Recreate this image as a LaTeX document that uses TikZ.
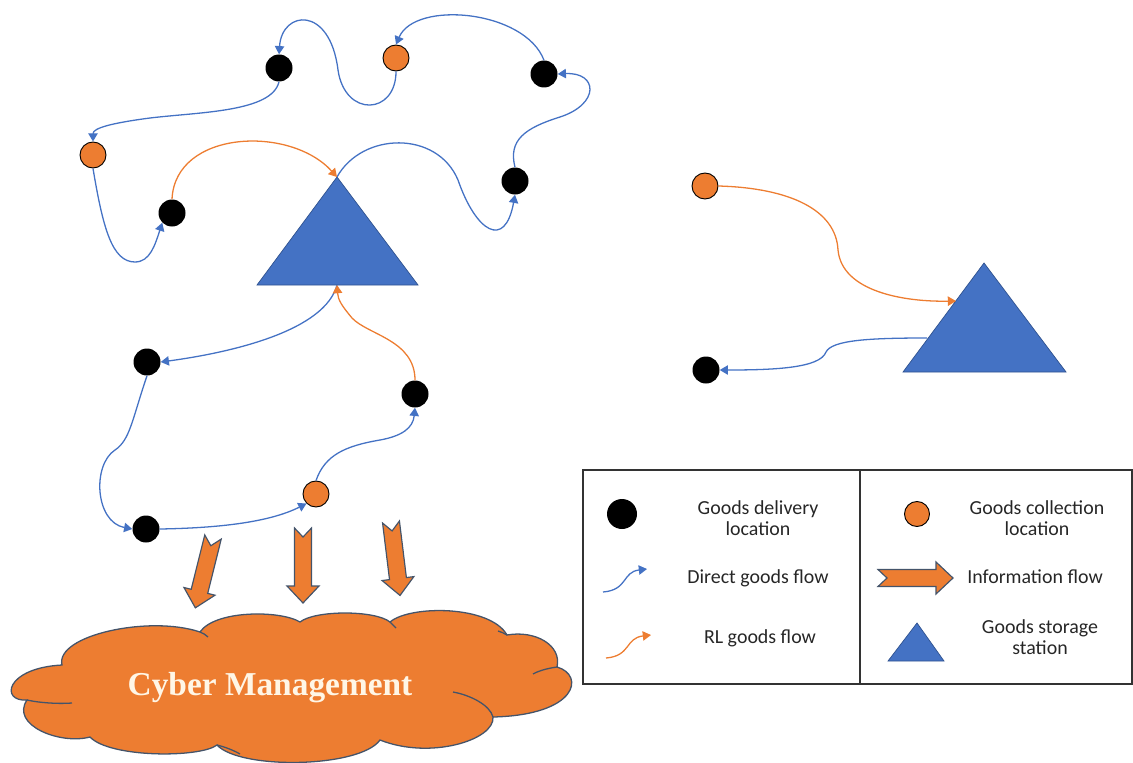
\documentclass[tikz,border=0pt]{standalone}
\usepackage{fontspec}
\setmainfont{Carlito}
\newfontfamily\cloudfont{Liberation Serif}
\usepackage{tikz}
\usetikzlibrary{arrows.meta}

\definecolor{offblue}{HTML}{4472C4}
\definecolor{offorange}{HTML}{ED7D31}
\definecolor{edgeblue}{HTML}{2F528F}
\definecolor{slate}{HTML}{44546A}
\definecolor{cream}{HTML}{FFF6E6}

\tikzset{
  deliv/.style={circle,fill=black,minimum size=0.81cm,inner sep=0pt},
  collect/.style={circle,fill=offorange,draw=black,line width=0.8pt,minimum size=0.78cm,inner sep=0pt},
  dflow/.style={draw=offblue,line width=1.1pt,-{Triangle[length=7pt,width=8pt]}},
  rlflow/.style={dflow,draw=offorange},
  station/.style={fill=offblue,draw=edgeblue,line width=0.6pt},
  cloudline/.style={draw=slate,line width=1.1pt},
  legtext/.style={font=\fontsize{17}{17.5}\selectfont,align=center,text=black!85},
  pics/infoarrow/.style={code={
    \draw[fill=offorange,draw=slate,line width=1pt,line join=miter]
      (0,8.5) -- (#1-17,8.5) -- (#1-17,16) -- (#1,0) -- (#1-17,-16) -- (#1-17,-8.5) -- (0,-8.5) -- (9,0) -- cycle;}}
}

\begin{document}
\begin{tikzpicture}[x=0.03cm,y=-0.03cm]
    \useasboundingbox (0,0) rectangle (1133,762);

    % storage stations
    \coordinate (st1) at (337,177);
    \coordinate (st1l) at (257,285);
    \coordinate (st1r) at (418,285);
    \coordinate (st1b) at (337,285);
    \draw[station] (st1) -- (st1r) -- (st1l) -- cycle;
    \coordinate (st2) at (984,263);
    \coordinate (st2l) at (903,372);
    \coordinate (st2r) at (1066,372);
    \coordinate (st2e) at (956,301);
    \coordinate (st2f) at (927,338);
    \draw[station] (st2) -- (st2r) -- (st2l) -- cycle;

    % locations
    \node[deliv] (d1) at (279,68) {};
    \node[collect] (c1) at (396,58) {};
    \node[deliv] (d2) at (544,74) {};
    \node[collect] (c2) at (93,155) {};
    \node[deliv] (d3) at (172,213) {};
    \node[deliv] (d4) at (515,181) {};
    \node[deliv] (d5) at (147,362) {};
    \node[deliv] (d6) at (415,394) {};
    \node[collect] (c3) at (316,494) {};
    \node[deliv] (d7) at (146,529) {};
    \node[collect] (c4) at (705,186) {};
    \node[deliv] (d8) at (706,370) {};

    % upper tour
    \draw[dflow] (st1) .. controls (362,132) and (437,130) .. (458,180) .. controls (476,232) and (505,250) .. (d4.south);
    \draw[dflow] (d4.north) .. controls (508,140) and (525,128) .. (560,117) .. controls (600,104) and (598,72) .. (d2.east);
    \draw[dflow] (d2.north) .. controls (525,10) and (415,0) .. (c1.north);
    \draw[dflow] (c1.south) .. controls (396,115) and (345,118) .. (338,70) .. controls (330,5) and (282,10) .. (d1.north);
    \draw[dflow] (d1.south) .. controls (272,112) and (200,112) .. (150,118) .. controls (112,123) and (93,128) .. (c2.north);
    \draw[dflow] (c2.south) .. controls (103,228) and (112,262) .. (135,262) .. controls (150,262) and (155,245) .. (d3.south west);
    \draw[rlflow] (d3.north) .. controls (175,130) and (290,125) .. (st1);

    % lower tour
    \draw[dflow] (st1b) .. controls (325,330) and (235,352) .. (d5.east);
    \draw[dflow] (d5.south) .. controls (132,420) and (130,440) .. (115,450) .. controls (92,465) and (95,522) .. (d7.west);
    \draw[dflow] (d7.east) .. controls (220,528) and (270,522) .. (c3.south west);
    \draw[dflow] (c3.north) .. controls (325,455) and (345,446) .. (380,440) .. controls (402,436) and (413,428) .. (d6.south);
    \draw[rlflow] (d6.north) .. controls (415,340) and (368,335) .. (352,318) .. controls (342,306) and (338,300) .. (st1b);

    % single station
    \draw[rlflow] (c4.east) .. controls (790,188) and (836,210) .. (838,250) .. controls (842,292) and (905,302) .. (st2e);
    \draw[dflow] (st2f) .. controls (870,338) and (832,340) .. (826,352) .. controls (820,368) and (775,370) .. (d8.east);

    % information flow to the cloud
    \pic[rotate=-104] (ia1) at (213,537) {infoarrow=73};
    \pic[rotate=-90] (ia2) at (303,528) {infoarrow=75};
    \pic[rotate=-83] (ia3) at (391,522) {infoarrow=74};

    % cloud
    \draw[cloudline,fill=offorange] (27,700) .. controls (0,702) and (5,668) .. (62,665)
        .. controls (55,635) and (150,615) .. (200,632)
        .. controls (215,610) and (280,610) .. (300,622)
        .. controls (315,610) and (375,610) .. (390,622)
        .. controls (410,605) and (490,605) .. (507,635)
        .. controls (535,630) and (562,645) .. (557,667)
        .. controls (585,675) and (578,715) .. (493,717)
        .. controls (495,740) and (430,760) .. (380,740)
        .. controls (360,768) and (240,770) .. (217,745)
        .. controls (200,758) and (110,758) .. (90,737)
        .. controls (60,745) and (10,725) .. (27,700) -- cycle;
    \draw[cloudline] (27,700) .. controls (40,703) and (60,704) .. (72,703);
    \draw[cloudline] (200,632) .. controls (203,633) and (206,635) .. (208,637);
    \draw[cloudline] (390,622) .. controls (392,624) and (394,626) .. (396,628);
    \draw[cloudline] (507,635) .. controls (504,633) and (501,632) .. (498,631);
    \draw[cloudline] (557,667) .. controls (550,668) and (540,670) .. (533,674);
    \draw[cloudline] (493,717) .. controls (490,705) and (470,695) .. (453,692);
    \draw[cloudline] (217,745) .. controls (225,747) and (233,750) .. (240,754);
    \node[font=\cloudfont\bfseries\fontsize{28.5}{34}\selectfont,text=cream] (cybertext) at (270,688) {Cyber Management};

    % legend
    \draw[line width=1pt,black!80] (583,470) rectangle (1132,684);
    \draw[line width=1pt,black!80] (860,470) -- (860,684);
    \node[deliv,minimum size=0.9cm] (ld) at (622,514) {};
    \node[legtext] (ldtext) at (758,518) {Goods delivery\\location};
    \coordinate (lb1) at (603,592);
    \coordinate (lb2) at (647,569);
    \draw[dflow] (lb1) .. controls (628,590) and (622,572) .. (lb2);
    \node[legtext] (lbtext) at (758,578) {Direct goods flow};
    \coordinate (lo1) at (606,658);
    \coordinate (lo2) at (651,635);
    \draw[rlflow] (lo1) .. controls (631,656) and (625,638) .. (lo2);
    \node[legtext] (lotext) at (760,638) {RL goods flow};
    \node[collect,minimum size=0.75cm] (lc) at (917,514) {};
    \node[legtext] (lctext) at (1037,518) {Goods collection\\location};
    \pic (lia) at (878,578) {infoarrow=75};
    \node[legtext] (liatext) at (1035,577) {Information flow};
    \draw[station] (917,623) -- (944,661) -- (888,661) -- cycle;
    \node[legtext] (lstext) at (1040,637) {Goods storage\\station};
\end{tikzpicture}
\end{document}
